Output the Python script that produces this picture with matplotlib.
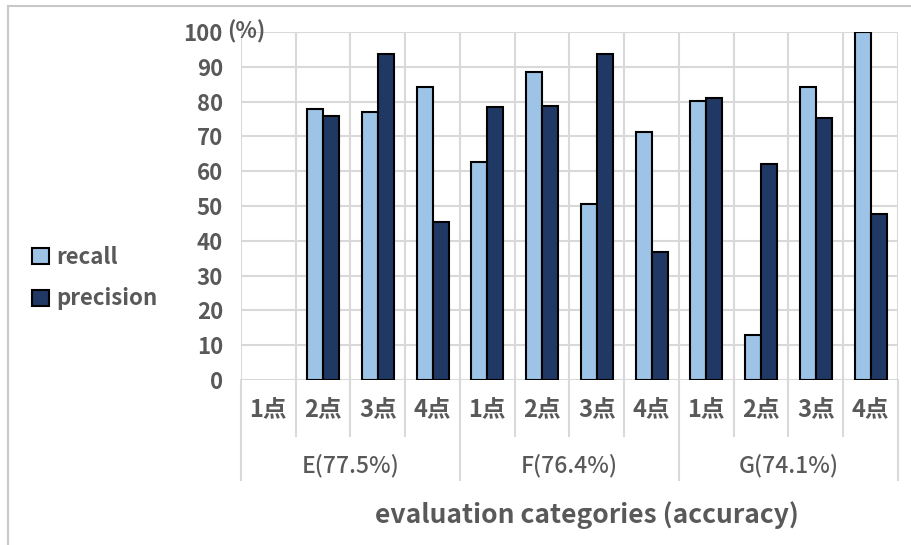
import matplotlib.pyplot as plt
from matplotlib.lines import Line2D
import numpy as np

plt.rcParams['font.family'] = ['Noto Sans CJK JP', 'DejaVu Sans']

# Scores per evaluation category (three raters x four point levels).
groups = ['E(77.5%)', 'F(76.4%)', 'G(74.1%)']
points = ['1点', '2点', '3点', '4点']
recall = [0, 78, 77, 84.2,
          62.6, 88.5, 50.6, 71.2,
          80.2, 12.9, 84.1, 100]
precision = [0, 76, 93.7, 45.5,
             78.5, 78.8, 93.6, 36.7,
             81.1, 62.1, 75.4, 47.6]

c_recall = '#9DC3E6'
c_prec = '#203864'
c_grid = '#D9D9D9'
c_text = '#595959'

n = len(recall)
x = np.arange(n) + 0.5
w = 0.29

fig = plt.figure(figsize=(9.12, 5.45), dpi=100)
ax = fig.add_axes([241/912, 165/545, 657/912, 348/545])

# Outer frame (top and left edge only).
fig.add_artist(Line2D([8/912, 1], [1-6/545, 1-6/545], color='#C8C8C8', lw=1.5))
fig.add_artist(Line2D([8/912, 8/912], [0, 1-6/545], color='#C8C8C8', lw=1.5))

# Grid.
for v in range(0, 101, 10):
  ax.axhline(v, color=c_grid, lw=1.5, zorder=0)
for i in range(n + 1):
  ax.axvline(i, color=c_grid, lw=1.5, zorder=0)

# Bars (empty level drawn as nothing).
r = np.array(recall)
p = np.array(precision)
mask = (r > 0) | (p > 0)
ax.bar(x[mask] - w/2, r[mask], w, color=c_recall, edgecolor='black', lw=1.5, zorder=3, label='recall')
ax.bar(x[mask] + w/2, p[mask], w, color=c_prec, edgecolor='black', lw=1.5, zorder=3, label='precision')

ax.set_xlim(0, n)
ax.set_ylim(0, 100)
for s in ax.spines.values():
  s.set_visible(False)
ax.set_xticks([])
ax.set_yticks(range(0, 101, 10))
ax.set_yticklabels([str(v) for v in range(0, 101, 10)], fontsize=16, fontweight='bold', color=c_text)
ax.tick_params(axis='y', length=0, pad=13)
ax.text(-0.26, 100, '(%)', fontsize=16, fontweight='bold', color=c_text, va='center', ha='left')

# Two-level category axis below the plot.
for i in range(n + 1):
  bottom = -28.7 if i % 4 == 0 else -16.1
  ax.plot([i, i], [0, bottom], color=c_grid, lw=1.5, clip_on=False, zorder=0)
for i in range(n):
  ax.text(x[i], -8.6, points[i % 4], fontsize=17, fontweight='bold', color=c_text,
          ha='center', va='center')
for g, name in enumerate(groups):
  ax.text(4*g + 2, -24.6, name, fontsize=16.5, fontweight='medium', color=c_text,
          ha='center', va='center')
ax.text(6.32, -38.8, 'evaluation categories (accuracy)', fontsize=19, fontweight='bold',
        color=c_text, ha='center', va='center')

# Legend on the left.
leg = fig.legend(loc='center left', bbox_to_anchor=(12/912, 1 - 278/545), frameon=False,
                 handlelength=0.75, handleheight=0.75, handletextpad=0.35,
                 labelspacing=0.85, labelcolor=c_text, prop={'weight': 'bold', 'size': 16})

fig.savefig('out.png', dpi=100)
plt.close()
